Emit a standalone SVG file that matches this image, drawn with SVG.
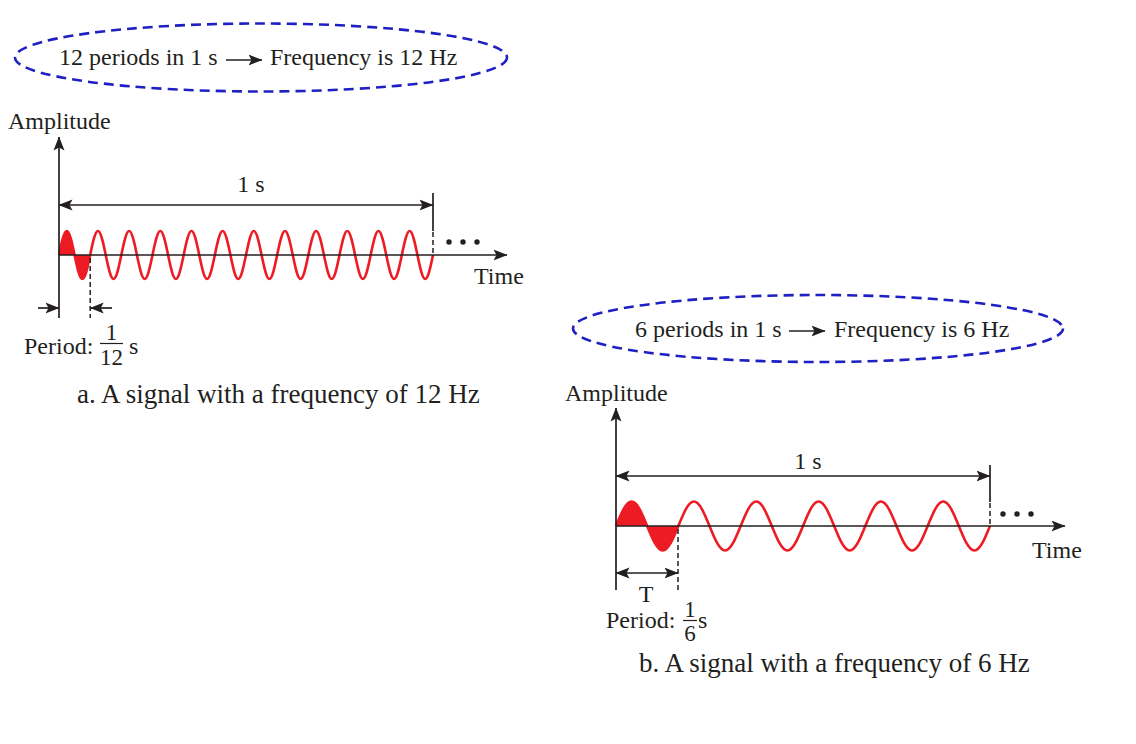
<svg xmlns="http://www.w3.org/2000/svg" width="1136" height="744" viewBox="0 0 1136 744">
<style>
text{font-family:"Liberation Serif","Times New Roman",serif;fill:#231f20}
.t{font-size:24px}
.cap{font-size:27px}
.fr{font-size:23px}
.ax{stroke:#231f20;stroke-width:1.7;fill:none}
.dl{stroke:#231f20;stroke-width:1.5;stroke-dasharray:5 3;fill:none}
.sine{stroke:#ed1c24;stroke-width:2.6;fill:none;stroke-linejoin:round}
.fill{fill:#ed1c24;stroke:none}
.ell{fill:none;stroke:#1f1fc4;stroke-width:2.6;stroke-dasharray:10 6}
.dot{fill:#231f20}
</style>
<defs>
<marker id="ah" markerUnits="userSpaceOnUse" viewBox="0 -6 14 12" refX="13.5" refY="0" markerWidth="14" markerHeight="12" orient="auto-start-reverse">
<path d="M0,-5.5 L14,0 L0,5.5 L3,0 z" fill="#231f20"/>
</marker>
</defs>

<rect width="1136" height="744" fill="#ffffff"/>

<g id="note-a">
<ellipse class="ell" cx="261" cy="57.5" rx="246" ry="34"/>
<text class="t" x="59" y="65">12 periods in 1 s</text>
<text class="t" x="270" y="65">Frequency is 12 Hz</text>
</g>

<g id="note-b">
<ellipse class="ell" cx="818" cy="328.5" rx="245" ry="33.5"/>
<text class="t" x="635" y="337">6 periods in 1 s</text>
<text class="t" x="834" y="337">Frequency is 6 Hz</text>
</g>

<g id="plot-a">
<text class="t" x="8" y="129">Amplitude</text>
<path class="fill" d="M59,255 c2.541,-12.295 4.972,-24 7.792,-24 s5.25,11.705 7.792,24 s4.972,24 7.792,24 s5.25,-11.705 7.792,-24 z"/>
<path class="sine" d="M59,255 c2.541,-12.295 4.972,-24 7.792,-24 s5.25,11.705 7.792,24 s4.972,24 7.792,24 s5.25,-11.705 7.792,-24
s4.972,-24 7.792,-24 s5.25,11.705 7.792,24 s4.972,24 7.792,24 s5.25,-11.705 7.792,-24
s4.972,-24 7.792,-24 s5.25,11.705 7.792,24 s4.972,24 7.792,24 s5.25,-11.705 7.792,-24
s4.972,-24 7.792,-24 s5.25,11.705 7.792,24 s4.972,24 7.792,24 s5.25,-11.705 7.792,-24
s4.972,-24 7.792,-24 s5.25,11.705 7.792,24 s4.972,24 7.792,24 s5.25,-11.705 7.792,-24
s4.972,-24 7.792,-24 s5.25,11.705 7.792,24 s4.972,24 7.792,24 s5.25,-11.705 7.792,-24
s4.972,-24 7.792,-24 s5.25,11.705 7.792,24 s4.972,24 7.792,24 s5.25,-11.705 7.792,-24
s4.972,-24 7.792,-24 s5.25,11.705 7.792,24 s4.972,24 7.792,24 s5.25,-11.705 7.792,-24
s4.972,-24 7.792,-24 s5.25,11.705 7.792,24 s4.972,24 7.792,24 s5.25,-11.705 7.792,-24
s4.972,-24 7.792,-24 s5.25,11.705 7.792,24 s4.972,24 7.792,24 s5.25,-11.705 7.792,-24
s4.972,-24 7.792,-24 s5.25,11.705 7.792,24 s4.972,24 7.792,24 s5.25,-11.705 7.792,-24
s4.972,-24 7.792,-24 s5.25,11.705 7.792,24 s4.972,24 7.792,24 s5.25,-11.705 7.792,-24"/>
<line class="ax" x1="433" y1="193" x2="433" y2="231"/>
<line class="dl" x1="433" y1="232" x2="433" y2="255"/>
<line class="dl" x1="90.2" y1="258" x2="90.2" y2="318"/>
<circle class="dot" cx="449" cy="242" r="2.7"/>
<circle class="dot" cx="463" cy="242" r="2.7"/>
<circle class="dot" cx="477" cy="242" r="2.7"/>
<text class="t" x="251" y="192" text-anchor="middle">1 s</text>
<text class="t" x="474" y="284">Time</text>
<text class="t" x="24" y="354">Period:</text>
<text class="fr" x="111.5" y="340" text-anchor="middle">1</text>
<line x1="100" y1="343.5" x2="123" y2="343.5" stroke="#231f20" stroke-width="1.2"/>
<text class="fr" x="111.5" y="365" text-anchor="middle">12</text>
<text class="t" x="129" y="354">s</text>
<text class="cap" x="77" y="403">a. A signal with a frequency of 12 Hz</text>
</g>

<g id="plot-b">
<text class="t" x="565" y="401">Amplitude</text>
<path class="fill" d="M616,526 c5.082,-12.551 9.944,-24.5 15.583,-24.5 s10.501,11.949 15.583,24.5 s9.944,24.5 15.583,24.5 s10.501,-11.949 15.583,-24.5 z"/>
<path class="sine" d="M616,526 c5.082,-12.551 9.944,-24.5 15.583,-24.5 s10.501,11.949 15.583,24.5 s9.944,24.5 15.583,24.5 s10.501,-11.949 15.583,-24.5
s9.944,-24.5 15.583,-24.5 s10.501,11.949 15.583,24.5 s9.944,24.5 15.583,24.5 s10.501,-11.949 15.583,-24.5
s9.944,-24.5 15.583,-24.5 s10.501,11.949 15.583,24.5 s9.944,24.5 15.583,24.5 s10.501,-11.949 15.583,-24.5
s9.944,-24.5 15.583,-24.5 s10.501,11.949 15.583,24.5 s9.944,24.5 15.583,24.5 s10.501,-11.949 15.583,-24.5
s9.944,-24.5 15.583,-24.5 s10.501,11.949 15.583,24.5 s9.944,24.5 15.583,24.5 s10.501,-11.949 15.583,-24.5
s9.944,-24.5 15.583,-24.5 s10.501,11.949 15.583,24.5 s9.944,24.5 15.583,24.5 s10.501,-11.949 15.583,-24.5"/>
<line class="ax" x1="990" y1="465" x2="990" y2="502"/>
<line class="dl" x1="990" y1="503" x2="990" y2="526"/>
<line class="dl" x1="678" y1="529" x2="678" y2="590"/>
<circle class="dot" cx="1003" cy="514" r="2.7"/>
<circle class="dot" cx="1017" cy="514" r="2.7"/>
<circle class="dot" cx="1031" cy="514" r="2.7"/>
<text class="t" x="808" y="469" text-anchor="middle">1 s</text>
<text class="t" x="1032" y="558">Time</text>
<text class="t" x="646" y="602" text-anchor="middle">T</text>
<text class="t" x="606" y="628">Period:</text>
<text class="fr" x="690" y="617" text-anchor="middle">1</text>
<line x1="683" y1="620.5" x2="697" y2="620.5" stroke="#231f20" stroke-width="1.2"/>
<text class="fr" x="690" y="641" text-anchor="middle">6</text>
<text class="t" x="698" y="628">s</text>
<text class="cap" x="639" y="672">b. A signal with a frequency of 6 Hz</text>
</g>

<g id="connectors">
<line class="ax" x1="226" y1="60" x2="262" y2="60" marker-end="url(#ah)"/>
<line class="ax" x1="789" y1="331" x2="825" y2="331" marker-end="url(#ah)"/>
<line class="ax" x1="59" y1="318" x2="59" y2="137" marker-end="url(#ah)"/>
<line class="ax" x1="59" y1="255" x2="507" y2="255" marker-end="url(#ah)"/>
<line class="ax" x1="59" y1="205" x2="433" y2="205" marker-start="url(#ah)" marker-end="url(#ah)"/>
<line class="ax" x1="38" y1="308" x2="59" y2="308" marker-end="url(#ah)"/>
<line class="ax" x1="112" y1="308" x2="90.2" y2="308" marker-end="url(#ah)"/>
<line class="ax" x1="616" y1="590" x2="616" y2="408" marker-end="url(#ah)"/>
<line class="ax" x1="616" y1="526" x2="1065" y2="526" marker-end="url(#ah)"/>
<line class="ax" x1="616" y1="476" x2="990" y2="476" marker-start="url(#ah)" marker-end="url(#ah)"/>
<line class="ax" x1="616" y1="573" x2="678" y2="573" marker-start="url(#ah)" marker-end="url(#ah)"/>
</g>
</svg>
